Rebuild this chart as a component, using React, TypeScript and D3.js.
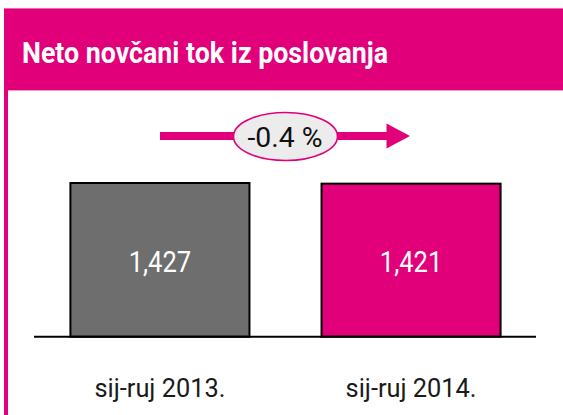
import React from "react";
import * as d3 from "d3";

const title = "Neto novčani tok iz poslovanja";
const categories = ["sij-ruj 2013.", "sij-ruj 2014."];
const values = [1427, 1421];
const valueLabels = ["1,427", "1,421"];
const changeLabel = "-0.4 %";

const W = 563;
const H = 415;
const MAGENTA = "#e2007a";
const barColors = ["#6e6e6e", MAGENTA];

export default function App() {
  const x = d3
    .scaleBand<string>()
    .domain(categories)
    .range([34, 537])
    .paddingInner(0.287)
    .paddingOuter(0.145);
  const y = d3.scaleLinear().domain([0, d3.max(values) as number]).range([336.7, 183]);
  const baseY = y(0);

  return (
    <svg
      width={W}
      height={H}
      style={{ position: "absolute", left: 0, top: 0, display: "block" }}
      fontFamily="Roboto, 'Liberation Sans', sans-serif"
    >
      <rect x={0} y={0} width={W} height={H} fill="#ffffff" />
      {/* header */}
      <rect x={4} y={8.4} width={W - 4} height={82} fill={MAGENTA} />
      <rect x={4} y={90} width={4} height={H - 90} fill={MAGENTA} />
      <text
        x={22}
        y={63.3}
        fill="#ffffff"
        fontWeight={700}
        fontSize={29}
        textLength={366}
        lengthAdjust="spacingAndGlyphs"
      >
        {title}
      </text>

      {/* change arrow */}
      <rect x={160} y={132} width={227} height={8} fill={MAGENTA} />
      <polygon points="386.5,123.5 410,136 386.5,148.5" fill={MAGENTA} />
      <ellipse cx={285.5} cy={136.5} rx={52} ry={24} fill="#ececec" stroke={MAGENTA} strokeWidth={1.6} />
      <text
        x={285}
        y={146.7}
        textAnchor="middle"
        fill="#111111"
        fontSize={28}
        fontWeight={400}
        textLength={75}
        lengthAdjust="spacingAndGlyphs"
      >
        {changeLabel}
      </text>

      {/* bars */}
      {categories.map((c, i) => {
        const bx = x(c) as number;
        const bw = x.bandwidth();
        const top = y(values[i]);
        return (
          <g key={c}>
            <rect
              x={bx}
              y={top}
              width={bw}
              height={baseY - top}
              fill={barColors[i]}
              stroke="#000000"
              strokeWidth={2}
            />
            <text
              x={bx + bw / 2}
              y={271.7}
              textAnchor="middle"
              fill="#ffffff"
              fontSize={29}
              textLength={62.5}
              lengthAdjust="spacingAndGlyphs"
            >
              {valueLabels[i]}
            </text>
            <text
              x={bx + bw / 2}
              y={396.7}
              textAnchor="middle"
              fill="#1a1a1a"
              fontSize={26}
              textLength={131}
              lengthAdjust="spacingAndGlyphs"
            >
              {c}
            </text>
          </g>
        );
      })}
      <line x1={34} x2={536} y1={baseY} y2={baseY} stroke="#000000" strokeWidth={2} />
    </svg>
  );
}
